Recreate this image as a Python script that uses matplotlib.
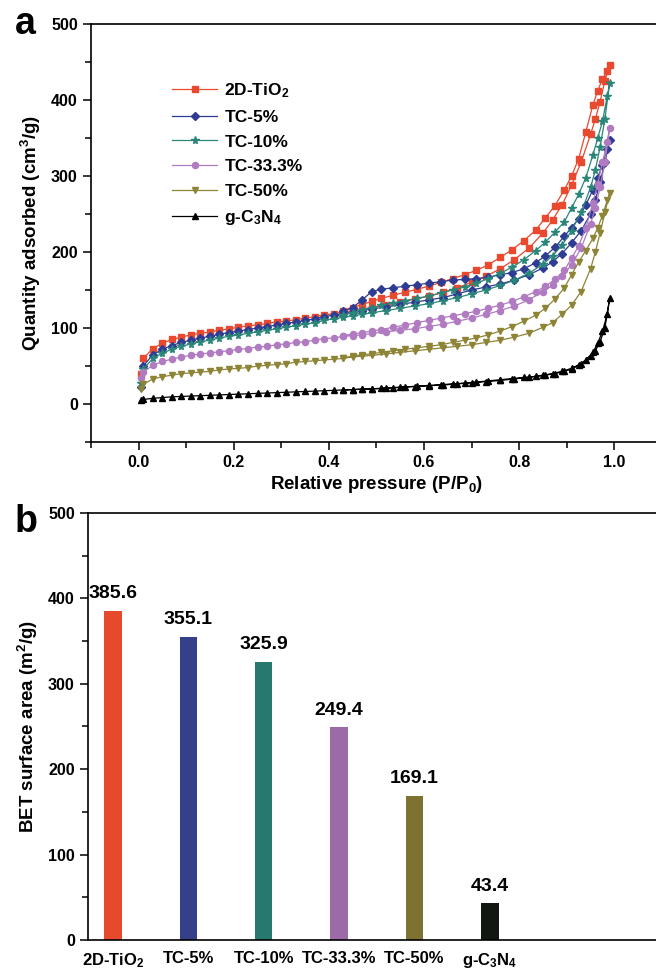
import numpy as np
import matplotlib
matplotlib.use("Agg")
import matplotlib.pyplot as plt
from matplotlib.ticker import MultipleLocator

plt.rcParams['font.family'] = ['Liberation Sans', 'DejaVu Sans']
plt.rcParams['font.weight'] = 'bold'
plt.rcParams['mathtext.fontset'] = 'custom'
plt.rcParams['mathtext.rm'] = 'Liberation Sans:bold'
plt.rcParams['mathtext.it'] = 'Liberation Sans:bold'
plt.rcParams['mathtext.bf'] = 'Liberation Sans:bold'
plt.rcParams['mathtext.default'] = 'rm'

# --- panel a : N2 isotherms (adsorption branch, then desorption branch)
p_ads = [0.005, 0.01, 0.03, 0.05, 0.07, 0.09, 0.11, 0.13, 0.15, 0.17, 0.19, 0.21,
         0.23, 0.25, 0.27, 0.29, 0.31, 0.33, 0.35, 0.37, 0.39, 0.41, 0.43, 0.45,
         0.47, 0.49, 0.52, 0.55, 0.58, 0.61, 0.64, 0.67, 0.70, 0.73, 0.76, 0.79,
         0.82, 0.85, 0.87, 0.89, 0.91, 0.93, 0.95, 0.96, 0.97, 0.98, 0.99]
p_des = [0.985, 0.975, 0.965, 0.955, 0.94, 0.925, 0.91, 0.895, 0.875, 0.855,
         0.835, 0.81, 0.785, 0.76, 0.735, 0.71, 0.685, 0.66, 0.635, 0.61, 0.585,
         0.56, 0.535, 0.51, 0.49, 0.47, 0.45, 0.43]

tio2_ads = [40, 60, 73, 80, 85, 88, 91, 93, 95, 97, 99, 101, 103, 104, 106, 108,
            109, 111, 113, 115, 117, 119, 121, 123, 125, 127, 130, 134, 138, 142,
            147, 153, 160, 168, 178, 190, 205, 225, 242, 262, 288, 318, 355, 375,
            398, 425, 446]
tio2_des = [438, 428, 412, 394, 358, 323, 300, 282, 261, 245, 229, 215, 203, 193,
            183, 176, 170, 165, 160, 155, 151, 147, 143, 139, 135, 131, 127, 123]

tc5_ads = [23, 50, 65, 72, 77, 81, 84, 87, 89, 92, 94, 96, 98, 100, 102, 104, 106,
           108, 110, 112, 115, 117, 119, 121, 123, 125, 128, 131, 134, 137, 140,
           145, 150, 154, 158, 163, 170, 179, 187, 198, 212, 228, 250, 268, 292,
           318, 347]
tc5_des = [335, 315, 298, 282, 262, 244, 232, 221, 206, 195, 186, 178, 173, 170,
           167, 165, 164, 163, 161, 159, 157, 155, 153, 151, 148, 137, 127, 122]

tc10_ads = [28, 46, 60, 67, 72, 76, 79, 82, 84, 87, 89, 91, 93, 95, 97, 99, 101,
            103, 105, 107, 110, 112, 114, 116, 118, 120, 123, 126, 129, 132, 136,
            140, 145, 150, 156, 163, 172, 184, 195, 209, 228, 252, 285, 308, 338,
            375, 422]
tc10_des = [405, 372, 350, 328, 298, 276, 258, 240, 226, 213, 202, 190, 180, 172,
            165, 159, 154, 150, 146, 142, 139, 136, 133, 130, 127, 124, 120, 117]

tc33_ads = [34, 42, 51, 56, 59, 62, 64, 66, 67, 69, 70, 72, 73, 75, 76, 78, 79, 81,
            82, 84, 86, 87, 89, 90, 91, 93, 95, 97, 99, 102, 105, 109, 113, 118,
            123, 129, 137, 148, 156, 168, 183, 205, 237, 258, 285, 318, 363]
tc33_des = [345, 318, 290, 265, 232, 208, 192, 176, 164, 155, 148, 141, 135, 130,
            126, 122, 119, 116, 113, 110, 107, 104, 101, 98, 96, 94, 92, 90]

tc50_ads = [20, 26, 33, 36, 38, 40, 41, 42, 43, 45, 46, 47, 48, 50, 51, 52, 53, 55,
            56, 57, 58, 59, 60, 62, 63, 64, 66, 68, 70, 72, 74, 76, 78, 81, 84, 88,
            93, 101, 107, 118, 130, 148, 178, 200, 225, 252, 277]
tc50_des = [268, 248, 232, 218, 202, 187, 170, 153, 138, 126, 117, 109, 102, 96,
            91, 87, 84, 81, 78, 76, 74, 72, 70, 68, 66, 65, 63, 61]

gcn_ads = [5, 6, 7.5, 8.5, 9.5, 10, 10.5, 11, 11.5, 12, 12.5, 13, 13.5, 14, 14.5,
           15, 15.5, 16, 16.5, 17, 17.5, 18, 18.5, 19, 19.5, 20, 21, 22, 23, 24, 25,
           26.5, 28, 29.5, 31, 33, 35, 38, 40, 43, 47, 53, 63, 70, 82, 100, 139]
gcn_des = [118, 96, 80, 68, 58, 51, 46, 43, 40, 38, 36.5, 35, 33.5, 32, 30.5, 29,
           27.5, 26.5, 25.5, 24.5, 23.5, 22.5, 21.5, 20.5, 20, 19.5, 19, 18.5]

# --- panel b : BET surface area
samples = ['2D-TiO$_2$', 'TC-5%', 'TC-10%', 'TC-33.3%', 'TC-50%', 'g-C$_3$N$_4$']
bet_area = [385.6, 355.1, 325.9, 249.4, 169.1, 43.4]

line_colors = ['#E8492F', '#2E3C94', '#2A8679', '#B07BC0', '#8E8436', '#000000']
bar_colors = ['#E54A2D', '#34408A', '#26796F', '#9D6AA8', '#7E7232', '#121712']
markers = ['s', 'D', '*', 'o', 'v', '^']
msizes = [4.2, 3.8, 5.8, 4.4, 4.8, 4.8]

isotherms = [(tio2_ads, tio2_des), (tc5_ads, tc5_des), (tc10_ads, tc10_des),
             (tc33_ads, tc33_des), (tc50_ads, tc50_des), (gcn_ads, gcn_des)]

fig = plt.figure(figsize=(6.56, 9.76), dpi=100)
ax1 = fig.add_axes([0.1387, 0.5471, 0.8704, 0.4283])
ax2 = fig.add_axes([0.1341, 0.0369, 0.8750, 0.4375])

x_iso = np.concatenate([p_ads, p_des])
for (ads, des), lab, c, m, ms in zip(isotherms, samples, line_colors, markers, msizes):
    y = np.concatenate([ads, des])
    ax1.plot(x_iso, y, color=c, marker=m, markersize=ms, lw=0.9, label=lab)

ax1.set_xlim(-0.1, 1.1)
ax1.set_ylim(-50, 500)
ax1.xaxis.set_major_locator(MultipleLocator(0.2))
ax1.xaxis.set_minor_locator(MultipleLocator(0.1))
ax1.yaxis.set_major_locator(MultipleLocator(100))
ax1.yaxis.set_minor_locator(MultipleLocator(50))
ax1.set_xticks([0.0, 0.2, 0.4, 0.6, 0.8, 1.0])
ax1.set_xlabel('Relative pressure (P/P$_0$)', fontsize=13.5, fontweight='bold', labelpad=3)
ax1.set_ylabel('Quantity adsorbed (cm$^3$/g)', fontsize=13.5, fontweight='bold', labelpad=6)
ax1.legend(loc='upper left', bbox_to_anchor=(0.115, 0.9), frameon=False,
           fontsize=12.5, handlelength=2.6, handletextpad=0.4, labelspacing=0.55)

ax2.bar(range(len(samples)), bet_area, width=0.23, color=bar_colors)
for i, v in enumerate(bet_area):
    ax2.annotate(f'{v:.1f}', (i, v), xytext=(0, 6), textcoords='offset points',
                 ha='center', va='bottom', fontsize=14, fontweight='bold')
ax2.set_xlim(-0.33, 7.28)
ax2.set_ylim(0, 500)
ax2.set_xticks(range(len(samples)))
ax2.set_xticklabels(samples)
ax2.yaxis.set_major_locator(MultipleLocator(100))
ax2.yaxis.set_minor_locator(MultipleLocator(50))
ax2.set_ylabel('BET surface area (m$^2$/g)', fontsize=13.5, fontweight='bold', labelpad=6)

for ax in (ax1, ax2):
    for s in ax.spines.values():
        s.set_linewidth(1.2)
    ax.tick_params(which='major', direction='out', length=6, width=1.1, labelsize=11.5)
    ax.tick_params(which='minor', direction='out', length=4, width=1.1)
    for t in ax.get_xticklabels() + ax.get_yticklabels():
        t.set_fontweight('bold')
ax2.tick_params(axis='x', which='both', length=0, pad=8, labelsize=12)

fig.text(0.022, 0.975, 'a', fontsize=27, fontweight='bold', ha='left', va='center')
fig.text(0.022, 0.465, 'b', fontsize=27, fontweight='bold', ha='left', va='center')

fig.savefig('out.png', dpi=100)
